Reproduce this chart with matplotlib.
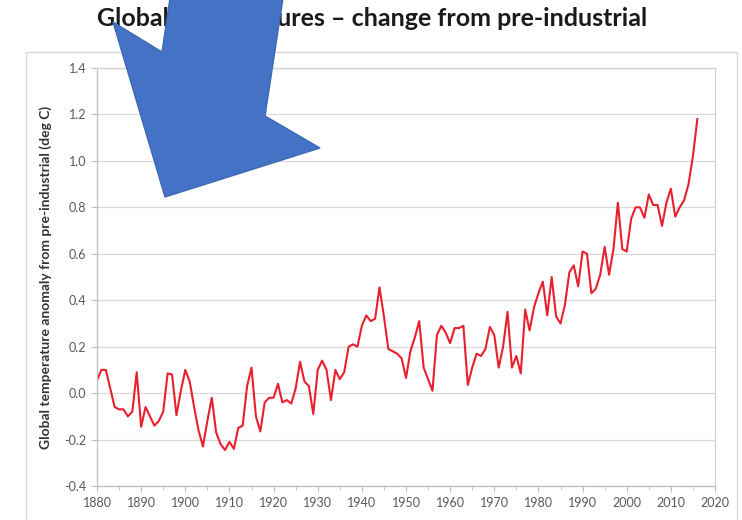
import numpy as np
import matplotlib
matplotlib.use("Agg")
import matplotlib.pyplot as plt
from matplotlib.patches import Polygon, Rectangle

# annual global temperature anomaly vs pre-industrial, deg C
years = np.arange(1880, 2017)
anomaly = [
    0.055, 0.10, 0.10, 0.02, -0.06, -0.07, -0.07, -0.10, -0.08, 0.09,       # 1880s
    -0.145, -0.06, -0.10, -0.14, -0.12, -0.08, 0.085, 0.08, -0.095, 0.01,   # 1890s
    0.10, 0.05, -0.06, -0.16, -0.23, -0.12, -0.02, -0.17, -0.22, -0.245,    # 1900s
    -0.21, -0.24, -0.15, -0.14, 0.03, 0.11, -0.10, -0.165, -0.04, -0.02,    # 1910s
    -0.02, 0.04, -0.04, -0.03, -0.045, 0.02, 0.135, 0.05, 0.03, -0.09,      # 1920s
    0.10, 0.14, 0.10, -0.03, 0.10, 0.06, 0.09, 0.20, 0.21, 0.20,            # 1930s
    0.29, 0.335, 0.31, 0.32, 0.455, 0.33, 0.19, 0.18, 0.17, 0.15,           # 1940s
    0.065, 0.18, 0.24, 0.31, 0.11, 0.06, 0.01, 0.25, 0.29, 0.26,            # 1950s
    0.215, 0.28, 0.28, 0.29, 0.035, 0.11, 0.17, 0.16, 0.19, 0.285,          # 1960s
    0.25, 0.11, 0.20, 0.35, 0.11, 0.16, 0.085, 0.36, 0.27, 0.37,            # 1970s
    0.43, 0.48, 0.335, 0.50, 0.33, 0.30, 0.38, 0.52, 0.55, 0.46,            # 1980s
    0.61, 0.60, 0.43, 0.45, 0.51, 0.63, 0.51, 0.62, 0.82, 0.62,             # 1990s
    0.61, 0.75, 0.80, 0.80, 0.755, 0.855, 0.81, 0.81, 0.72, 0.82,           # 2000s
    0.88, 0.76, 0.80, 0.83, 0.90, 1.02, 1.18,                               # 2010s
]
xticks = list(range(1880, 2021, 10))
yticks = [-0.4, -0.2, 0.0, 0.2, 0.4, 0.6, 0.8, 1.0, 1.2, 1.4]

W, H = 742, 520
fig = plt.figure(figsize=(W / 100, H / 100), dpi=100)
fig.patch.set_facecolor("white")

# chart area border
fig.patches.append(Rectangle((26 / W, -0.05), 711 / W, 1.05 - 52 / H,
                             transform=fig.transFigure, fill=False,
                             edgecolor="#D9D9D9", linewidth=1.0))

ax = fig.add_axes([97 / W, 34 / H, 618 / W, 418 / H])
ax.plot(years, anomaly, color="#E8202E", linewidth=1.5)

ax.set_xlim(1880, 2020)
ax.set_ylim(-0.4, 1.4)
ax.set_xticks(xticks)
ax.set_xticks(range(1880, 2021, 5), minor=True)
ax.set_yticks(yticks)
ax.set_yticklabels([f"{v:.1f}" for v in yticks])
ax.grid(axis="y", color="#D9D9D9", linewidth=0.9)
ax.set_axisbelow(True)

for s in ax.spines.values():
    s.set_color("#D0D0D0")
    s.set_linewidth(0.9)
ax.spines["left"].set_color("#BFBFBF")
ax.spines["bottom"].set_color("#BFBFBF")

ax.tick_params(axis="both", which="both", color="#BFBFBF", labelcolor="#595959",
               labelsize=9, direction="out")
ax.tick_params(axis="both", which="major", length=4)
ax.tick_params(axis="x", which="minor", length=3)
ax.tick_params(axis="x", pad=4)
for lab in ax.get_xticklabels() + ax.get_yticklabels():
    lab.set_family("Lato")

ax.set_ylabel("Global temperature anomaly from pre-industrial (deg C)",
              fontsize=10, fontweight="bold", family="Lato", color="#333333",
              labelpad=9)

fig.text(372 / W, 1 - 19 / H, "Global temperatures \u2013 change from pre-industrial",
         ha="center", va="center", fontsize=18, fontweight="bold",
         family="Lato", color="#1a1a1a")

# big blue pointer arrow, drawn in pixel coords (y down)
arrow_px = [(170, -2), (283, -2), (265, 116), (320, 148), (165, 197),
            (113, 22), (162, 52)]
arrow = Polygon([(x / W, 1 - y / H) for x, y in arrow_px], closed=True,
                transform=fig.transFigure, facecolor="#4472C4",
                edgecolor="#3F69B5", linewidth=1.0, zorder=10)
fig.patches.append(arrow)

fig.savefig("out.png", dpi=100)
